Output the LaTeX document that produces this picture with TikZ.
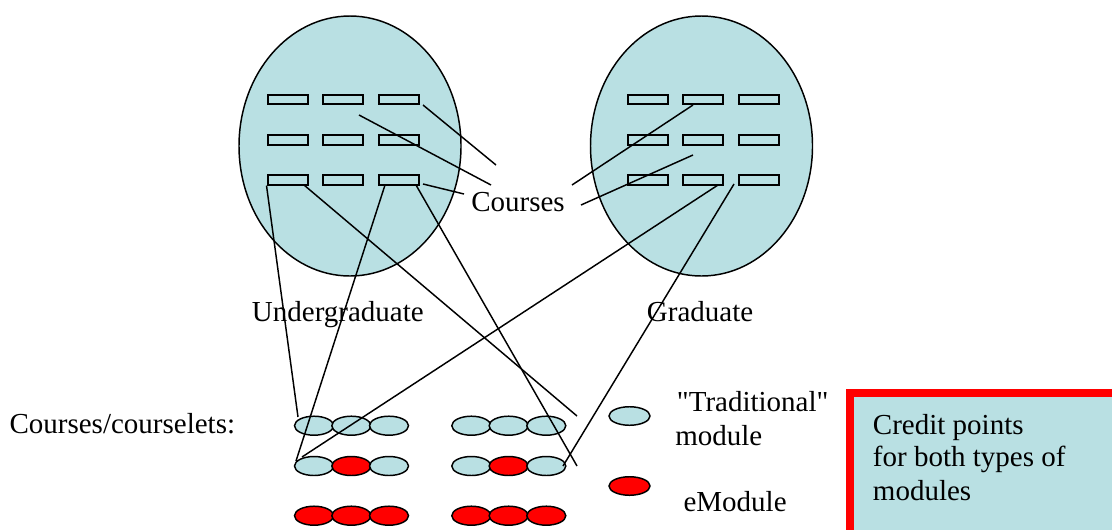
\documentclass[tikz,border=0pt]{standalone}
\usepackage{fontspec}
\setmainfont{Liberation Serif}
\usetikzlibrary{shapes.geometric}
\definecolor{lblue}{RGB}{185,224,227}
\definecolor{ered}{RGB}{255,0,0}
\begin{document}
\begin{tikzpicture}[x=0.75pt,y=-0.75pt,
  bigell/.style={ellipse,draw=black,fill=lblue,line width=1.1pt,inner sep=0pt,minimum width=166.5pt,minimum height=195pt},
  crs/.style={rectangle,draw=black,fill=lblue,line width=1.5pt,inner sep=0pt,minimum width=30pt,minimum height=6.8pt},
  modb/.style={ellipse,draw=black,fill=lblue,line width=1.1pt,inner sep=0pt,minimum width=29.25pt,minimum height=14.25pt},
  modr/.style={modb,fill=ered},
  lbl/.style={anchor=base west,inner sep=0pt,font=\fontsize{21.75}{26}\selectfont},
  conn/.style={draw=black,line width=1.1pt}]
\useasboundingbox (0,0) rectangle (1112,529);
\clip (0,0) rectangle (1112,529);
% big ellipses
\node[bigell] (UG) at (350,146) {};
\node[bigell] (GR) at (701.5,146) {};
% course rectangles
\foreach \r/\y in {1/99.5,2/140,3/180}{
  \foreach \c/\x in {1/287.5,2/343,3/398.5}{
    \node[crs] (L\r\c) at (\x,\y) {};
  }
  \foreach \c/\x in {1/647.7,2/703,3/758.7}{
    \node[crs] (R\r\c) at (\x,\y) {};
  }
}
% module ellipses
\foreach \g/\x in {A/314,B/471.3}{
  \node[modb] (\g11) at (\x,425.7) {};
  \node[modb] (\g12) at (\x+37.3,425.7) {};
  \node[modb] (\g13) at (\x+75,425.7) {};
  \node[modb] (\g21) at (\x,466) {};
  \node[modr] (\g22) at (\x+37.3,466) {};
  \node[modb] (\g23) at (\x+75,466) {};
  \node[modr] (\g31) at (\x,515.7) {};
  \node[modr] (\g32) at (\x+37.3,515.7) {};
  \node[modr] (\g33) at (\x+75,515.7) {};
}
% legend
\node[modb,minimum width=30.75pt,minimum height=13.9pt] (legT) at (629.5,416) {};
\node[modr,minimum width=30.75pt,minimum height=13.9pt] (legE) at (629.5,486) {};
% credit box
\fill[ered] (846,389) rectangle (1120,540);
\fill[lblue] (854,397) rectangle (1120,540);
% texts
\node[lbl] (courses) at (471,211.7) {Courses};
\node[lbl] (ugt) at (251.7,321.7) {Undergraduate};
\node[lbl] (grt) at (646.7,321.7) {Graduate};
\node[lbl] (cc) at (9.3,433.3) {Courses/courselets:};
\node[lbl] (trad1) at (676.7,411.7) {\textquotedbl Traditional\textquotedbl};
\node[lbl] (trad2) at (675,445) {module};
\node[lbl] (emod) at (683.3,511.7) {eModule};
\node[lbl] (cp1) at (872.7,434) {Credit points};
\node[lbl] (cp2) at (872.7,466.7) {for both types of};
\node[lbl] (cp3) at (872.7,500) {modules};
% connector end points
\coordinate (p1a) at (423,105); \coordinate (p1b) at (496,165);
\coordinate (p2a) at (359,115); \coordinate (p2b) at (491,185);
\coordinate (p3a) at (423,184); \coordinate (p3b) at (464,194);
\coordinate (p4a) at (693,105); \coordinate (p4b) at (572,185);
\coordinate (p5a) at (693,155); \coordinate (p5b) at (581,205);
\coordinate (pAb) at (298,417);
\coordinate (pBa) at (385,185); \coordinate (pBb) at (296,461);
\coordinate (pCa) at (304,185); \coordinate (pCb) at (577,416);
\coordinate (pDa) at (416,185); \coordinate (pDb) at (577,466);
\coordinate (pEa) at (718,185); \coordinate (pEb) at (302,457);
\coordinate (pFa) at (734,184); \coordinate (pFb) at (563,466);
% connectors
\draw[conn] (p1a) -- (p1b);
\draw[conn] (p2a) -- (p2b);
\draw[conn] (p3a) -- (p3b);
\draw[conn] (p4a) -- (p4b);
\draw[conn] (p5a) -- (p5b);
\draw[conn] (L31.south west) -- (pAb);
\draw[conn] (pBa) -- (pBb);
\draw[conn] (pCa) -- (pCb);
\draw[conn] (pDa) -- (pDb);
\draw[conn] (pEa) -- (pEb);
\draw[conn] (pFa) -- (pFb);
\end{tikzpicture}
\end{document}
